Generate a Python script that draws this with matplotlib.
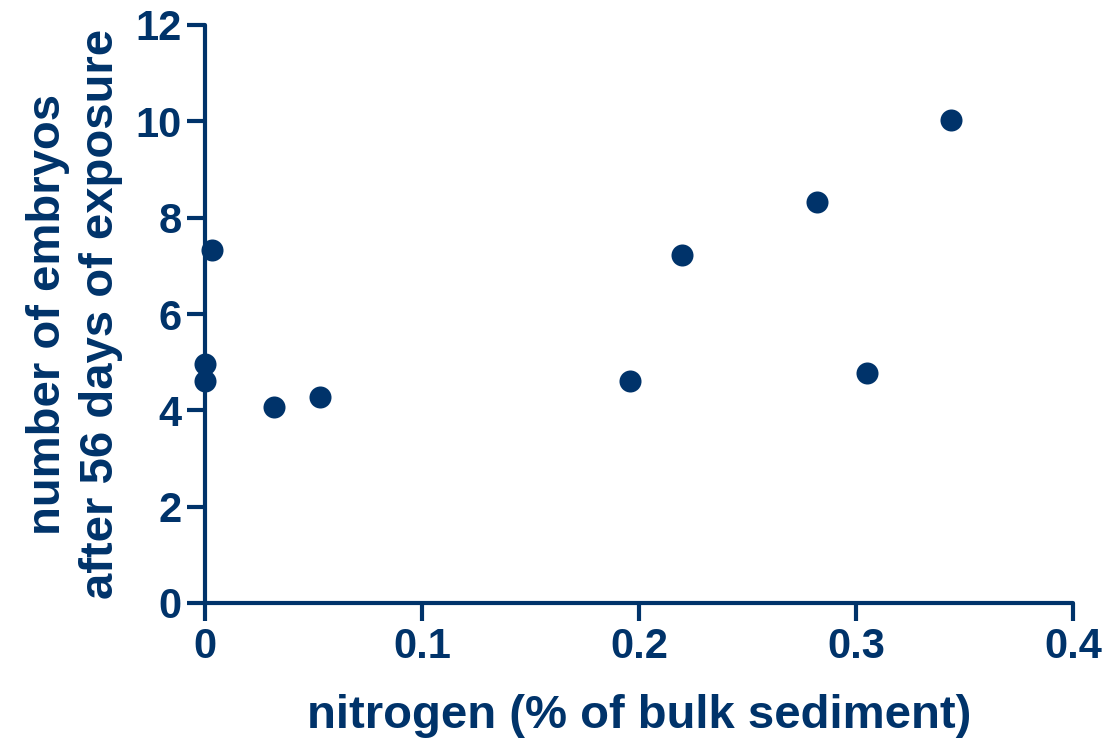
"""
Embryo count vs sediment nitrogen, Prism-style scatter.
"""

import matplotlib
matplotlib.use("Agg")
import matplotlib.pyplot as plt

NAVY = "#00336a"

nitrogen = [0.0, 0.0, 0.003, 0.032, 0.053, 0.196, 0.220, 0.282, 0.305, 0.344]
embryos = [4.6, 4.97, 7.32, 4.06, 4.27, 4.6, 7.23, 8.32, 4.77, 10.02]

x_ticks = [0, 0.1, 0.2, 0.3, 0.4]
x_ticklabels = ["0", "0.1", "0.2", "0.3", "0.4"]
y_ticks = [0, 2, 4, 6, 8, 10, 12]

plt.rcParams["font.family"] = ["Liberation Sans", "DejaVu Sans"]
plt.rcParams["font.weight"] = "bold"

fig = plt.figure(figsize=(11.06, 7.39), dpi=100)
ax = fig.add_axes([205 / 1106, 1 - 603 / 739, 868 / 1106, 578 / 739])

ax.scatter(nitrogen, embryos, s=22 ** 2 * 0.52, color=NAVY, zorder=3,
           clip_on=False, linewidths=0)

ax.set_xlim(0, 0.4)
ax.set_ylim(0, 12)
ax.set_xticks(x_ticks)
ax.set_xticklabels(x_ticklabels)
ax.set_yticks(y_ticks)

for side in ("top", "right"):
    ax.spines[side].set_visible(False)
for side in ("left", "bottom"):
    ax.spines[side].set_color(NAVY)
    ax.spines[side].set_linewidth(3)
    ax.spines[side].set_capstyle("round")

ax.tick_params(direction="out", length=13, width=3, color=NAVY,
               labelcolor=NAVY, labelsize=30, pad=4)
for lab in ax.get_xticklabels() + ax.get_yticklabels():
    lab.set_fontweight("bold")

ax.set_xlabel("nitrogen (% of bulk sediment)", fontsize=34,
              fontweight="bold", color=NAVY, labelpad=20)
ax.set_ylabel("number of embryos\nafter 56 days of exposure", fontsize=34,
              fontweight="bold", color=NAVY, labelpad=9, linespacing=1.25)

fig.savefig("out.png", dpi=100)
